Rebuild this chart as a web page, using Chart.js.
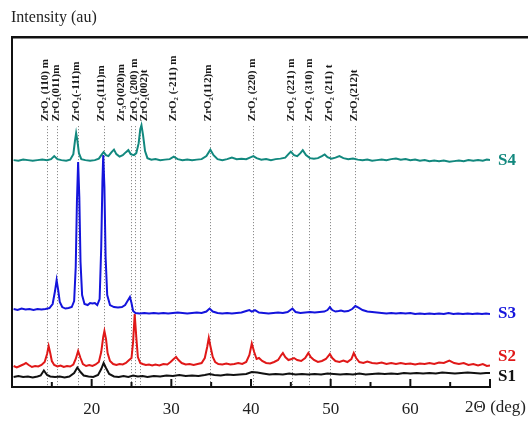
<!DOCTYPE html>
<html>
<head>
<meta charset="utf-8">
<script src="https://cdn.jsdelivr.net/npm/chart.js@4"></script>
<style>
  html, body { margin: 0; padding: 0; background: #fff; }
  #wrap { width: 528px; height: 423px; }
</style>
</head>
<body>
<div id="wrap"><canvas id="xrd" width="528" height="423"></canvas></div>
<script>
// 2-theta / intensity pairs (curves already offset)
const s4 = [[10.2,227],[10.8,226.5],[11.4,227.5],[12,227],[12.6,226.5],[13.2,227],[13.8,227.5],[14.4,227],[14.9,228],[15.3,231],[15.7,228],[16.2,227],[16.8,226.5],[17.3,227.5],[17.7,233],[17.9,246],[18.05,254],[18.2,247],[18.4,234],[18.7,228],[19.2,227],[19.8,226.5],[20.4,227],[20.9,228.5],[21.3,233],[21.5,235],[21.8,232],[22.1,231],[22.5,235],[22.8,237.5],[23.1,233],[23.5,230.5],[23.9,232],[24.3,235],[24.6,237],[24.9,233],[25.3,232],[25.6,234],[25.9,244],[26.1,258],[26.25,262],[26.45,252],[26.7,236],[27,229],[27.5,227.5],[28,228],[28.6,227],[29.2,227.5],[29.8,228],[30.3,230.5],[30.8,228],[31.4,227],[32,227.5],[32.6,227],[33.2,227.5],[33.8,228],[34.4,231],[34.9,237.5],[35.3,232],[35.8,228],[36.4,227],[37,228],[37.6,229.5],[38.2,228],[38.8,228.5],[39.4,228],[40,230],[40.3,231],[40.7,229],[41.3,227.5],[41.9,228],[42.5,227],[43.1,228],[43.7,228.5],[44.3,229.5],[44.7,233],[45,235.5],[45.4,232],[45.8,231],[46.2,234],[46.5,237],[46.9,232],[47.4,229],[47.9,228.5],[48.4,229],[48.9,231],[49.25,232.7],[49.6,230],[50.1,228.5],[50.6,229.5],[51.1,231],[51.6,229],[52.2,228],[52.8,228.7],[53.4,227.5],[54,227],[54.6,227.5],[55.2,226.5],[55.8,227],[56.4,227.5],[57,227],[57.6,228],[58.2,228.7],[58.8,227.5],[59.4,228],[60,227],[60.6,227.5],[61.2,226.5],[61.8,227],[62.4,226],[63,226.5],[63.6,226],[64.2,226.5],[64.9,225.5],[65.5,226],[66.1,226.5],[66.7,226],[67.3,227],[67.9,226.5],[68.5,227],[69.1,226.5],[69.6,227.5],[70,227]];

const s3 = [[10.2,78],[10.7,77],[11.2,78.5],[11.7,77.5],[12.2,78],[12.7,77],[13.2,78],[13.7,77.5],[14.2,78],[14.7,79],[15.1,83],[15.4,96],[15.6,107],[15.8,97],[16,85],[16.3,80],[16.7,78.5],[17.1,79],[17.5,80],[17.8,86],[18,120],[18.15,185],[18.3,225],[18.45,190],[18.6,125],[18.8,92],[19.1,83],[19.5,82],[19.8,84],[20.1,83.5],[20.4,84],[20.7,82],[21,88],[21.2,140],[21.35,205],[21.45,232],[21.6,200],[21.75,130],[21.95,92],[22.3,82],[22.8,80],[23.3,79.5],[23.8,80],[24.2,82],[24.5,86],[24.8,90],[25,84],[25.2,76],[25.5,74],[26,73.5],[26.6,74],[27.2,73.5],[27.8,74],[28.4,73.5],[29,74],[29.6,73.5],[30.2,74],[30.8,74.5],[31.4,74],[32,73.5],[32.6,74],[33.2,74.5],[33.8,74],[34.4,75.5],[34.8,78.5],[35.2,75.5],[35.8,74],[36.4,73.5],[37,74],[37.6,73.5],[38.2,74],[38.8,74.5],[39.4,76],[39.8,77],[40.1,75.5],[40.5,77],[41,74.5],[41.6,74],[42.2,73.5],[42.8,74],[43.4,74.5],[44,74],[44.6,75],[45.2,78.5],[45.6,75],[46.2,74],[46.8,74.5],[47.4,75],[48,74.5],[48.6,75],[49.2,75.5],[49.6,77],[49.9,80],[50.2,77],[50.6,75.5],[51,76],[51.3,76.5],[51.7,75.5],[52.2,76],[52.7,78],[53.1,81],[53.5,79.5],[54,77],[54.6,75.5],[55.2,75],[55.8,74.5],[56.4,74],[57,73.5],[57.6,74],[58.2,73.5],[58.8,74],[59.4,73.5],[60,74],[60.6,73],[61.2,73.5],[61.8,73],[62.4,73.5],[63,73],[63.6,73.5],[64.2,73],[64.8,74],[65.4,73],[66,73.5],[66.6,73],[67.2,73.5],[67.8,73],[68.4,73.5],[69,73],[69.5,73.5],[70,73]];

const s2 = [[10.2,21],[10.6,19.5],[11,21],[11.4,22.5],[11.75,24],[12.1,22],[12.5,20],[12.9,21],[13.3,20.5],[13.7,22],[14.1,25],[14.4,33],[14.6,41],[14.8,34],[15,26],[15.3,22],[15.7,20.5],[16.1,21.5],[16.5,20],[16.9,21],[17.3,20.5],[17.7,22.5],[18,28],[18.3,36],[18.6,29],[18.9,23],[19.3,21],[19.7,22],[20.1,21],[20.5,22.5],[20.9,25],[21.2,35],[21.45,50],[21.6,56],[21.8,48],[22,34],[22.3,26],[22.7,23],[23.1,22],[23.5,23],[23.9,22.5],[24.3,24],[24.7,27],[25,29],[25.2,45],[25.4,73],[25.6,50],[25.8,30],[26.1,24],[26.4,23],[26.8,22],[27.2,22.5],[27.6,21.5],[28,22.5],[28.5,21.5],[29,23],[29.5,22.5],[29.9,25],[30.3,28],[30.6,30],[30.9,27],[31.3,24],[31.8,22.5],[32.3,23],[32.8,22],[33.3,23],[33.8,24],[34.2,29],[34.5,40],[34.7,49],[34.9,41],[35.2,30],[35.5,25],[35.9,23],[36.4,22.5],[36.9,23.5],[37.4,22.5],[37.9,23],[38.4,24],[38.9,23],[39.4,25],[39.8,32],[40.1,43.5],[40.4,35],[40.7,28],[41,29],[41.4,26],[41.9,24],[42.4,23.5],[42.9,25],[43.4,27],[43.8,32],[44,34],[44.3,30],[44.7,27],[45.1,28],[45.4,29],[45.8,27],[46.3,26],[46.8,29],[47.2,34],[47.5,30],[47.9,27],[48.4,25],[48.9,26],[49.4,28],[49.9,33],[50.2,29],[50.6,26],[51.1,25],[51.6,26.5],[52.1,25],[52.6,28],[52.9,34],[53.2,29],[53.6,25],[54.1,24],[54.6,25.5],[55.2,24],[55.8,23.5],[56.4,24.5],[57,23],[57.6,24],[58.2,23],[58.8,24],[59.4,23],[60,23.5],[60.6,22.5],[61.2,23.5],[61.8,23],[62.4,24],[63,23],[63.6,24.5],[64.2,24],[64.9,26.5],[65.5,24],[66.1,23],[66.7,24],[67.3,22],[67.9,23],[68.5,21.5],[69.1,23],[69.6,21],[70,21.5]];

const s1 = [[10.2,10],[10.8,11],[11.4,10],[12,10.5],[12.6,9.5],[13.2,10.5],[13.6,11.5],[14,16.5],[14.4,12],[14.8,10.5],[15.4,10],[16,10.5],[16.6,9.5],[17.2,10.5],[17.8,14],[18.2,19.5],[18.6,15],[19,11.5],[19.6,10.5],[20.2,10],[20.8,12],[21.2,18],[21.5,24],[21.8,19],[22.2,13],[22.8,10.5],[23.4,10],[24,11],[24.6,10],[25.2,11.5],[25.8,10.5],[26.4,11],[27,10],[27.8,11],[28.6,10.5],[29.4,11.5],[30.2,11],[31,12],[31.8,11],[32.6,11.5],[33.4,11],[34.2,12],[34.8,13],[35.4,12],[36.2,11.5],[37,12.5],[37.8,12],[38.6,12.5],[39.4,13],[40.1,15],[40.8,14.5],[41.5,13.5],[42.3,12.5],[43.1,13],[44,12.5],[44.8,13.5],[45.6,12.5],[46.4,13],[47.2,12.5],[48,13],[48.8,12.5],[49.6,13.5],[50.4,13],[51.2,12.5],[52,13],[52.8,12.5],[53.6,13.5],[54.4,12.5],[55.2,13],[56,13.5],[56.8,13],[57.6,13.5],[58.4,13],[59.2,14],[60,13.5],[60.8,14],[61.6,13.5],[62.4,14],[63.2,13.5],[64,14.5],[64.8,14],[65.6,13.5],[66.4,14],[67.2,14.5],[68,14],[68.8,13.5],[69.5,14],[70,14]];

const seriesNames = ['S4', 'S3', 'S2', 'S1'];

// reflection markers
const peakLines = [14.4, 15.6, 18.3, 21.5, 24.9, 25.4, 26.1, 30.4, 34.8, 40.3, 45.2, 47.3, 49.9, 53.0];
const peakLabelPos = [14.2, 15.5, 18.0, 21.2, 23.7, 25.3, 26.6, 30.2, 34.6, 40.2, 45.1, 47.3, 49.8, 52.9];
const peakLabels = ['ZrO₂ (110) m', 'ZrO₂(011)m', 'ZrO₂(-111)m', 'ZrO₂(111)m', 'Zr₃O(020)m', 'ZrO₂ (200) m', 'ZrO₂(002)t',
  'ZrO₂ (-211) m', 'ZrO₂(112)m', 'ZrO₂ (220) m', 'ZrO₂ (221) m', 'ZrO₂ (310) m', 'ZrO₂ (211) t', 'ZrO₂(212)t'];

const xTickLabels = [20, 30, 40, 50, 60];

const SERIF = '"Liberation Serif", "Times New Roman", serif';
const colors = ['#12887e', '#1414dc', '#e01818', '#111111'];
const labelOffsets = [0, 0, -9, 4];

const toXY = arr => arr.map(p => ({ x: p[0], y: p[1] }));

const xrdDecor = {
  id: 'xrdDecor',
  beforeDatasetsDraw(chart) {
    const { ctx, scales: { x, y } } = chart;
    ctx.save();
    ctx.strokeStyle = '#7a7a7a';
    ctx.lineWidth = 1;
    ctx.setLineDash([1, 2]);
    const yTop = y.getPixelForValue(261);
    peakLines.forEach(p => {
      const px = Math.round(x.getPixelForValue(p)) + 0.5;
      ctx.beginPath();
      ctx.moveTo(px, yTop);
      ctx.lineTo(px, y.bottom);
      ctx.stroke();
    });
    ctx.restore();

    // rotated peak labels
    ctx.save();
    ctx.fillStyle = '#1a1a1a';
    ctx.font = 'bold 11px ' + SERIF;
    ctx.textAlign = 'left';
    ctx.textBaseline = 'middle';
    const yBase = y.getPixelForValue(266);
    peakLabels.forEach((t, i) => {
      ctx.save();
      ctx.translate(x.getPixelForValue(peakLabelPos[i]), yBase);
      ctx.rotate(-Math.PI / 2);
      ctx.fillText(t, 0, 0);
      ctx.restore();
    });
    ctx.restore();
  },
  afterDraw(chart) {
    const { ctx, chartArea: a, scales: { x, y } } = chart;
    ctx.save();
    // frame: left axis + top rule
    ctx.strokeStyle = '#111';
    ctx.lineWidth = 2;
    ctx.beginPath();
    ctx.moveTo(a.left, a.bottom);
    ctx.lineTo(a.left, a.top);
    ctx.stroke();
    ctx.lineWidth = 2.5;
    ctx.beginPath();
    ctx.moveTo(a.left - 1, a.top);
    ctx.lineTo(chart.width, a.top);
    ctx.stroke();

    // inward tick marks
    ctx.lineWidth = 2;
    x.ticks.forEach(tk => {
      if (tk.value <= x.min) return;
      const px = x.getPixelForValue(tk.value);
      const len = tk.value % 10 === 0 ? 8 : 5;
      ctx.beginPath();
      ctx.moveTo(px, a.bottom);
      ctx.lineTo(px, a.bottom - len);
      ctx.stroke();
    });

    // axis name
    ctx.fillStyle = '#222';
    ctx.font = '17px ' + SERIF;
    ctx.textAlign = 'right';
    ctx.textBaseline = 'middle';
    ctx.fillText('2Θ (deg)', chart.width - 2, a.bottom + 21);

    // series names
    ctx.font = 'bold 17px ' + SERIF;
    ctx.textAlign = 'left';
    chart.data.datasets.forEach((ds, i) => {
      const last = ds.data[ds.data.length - 1];
      ctx.fillStyle = colors[i];
      ctx.fillText(seriesNames[i], a.right + 8, y.getPixelForValue(last.y) + labelOffsets[i]);
    });
    ctx.restore();
  }
};

new Chart(document.getElementById('xrd'), {
  type: 'line',
  data: {
    datasets: [s4, s3, s2, s1].map((s, i) => ({
      label: seriesNames[i],
      data: toXY(s),
      borderColor: colors[i],
      borderWidth: 2,
      pointRadius: 0,
      tension: 0,
      fill: false
    }))
  },
  options: {
    responsive: false,
    animation: false,
    events: [],
    layout: { padding: { left: 11, right: 38, top: 0, bottom: 0 } },
    plugins: {
      legend: { display: false },
      tooltip: { enabled: false },
      title: {
        display: true,
        text: 'Intensity (au)',
        align: 'start',
        color: '#222',
        font: { family: SERIF, size: 16, weight: 'normal' },
        padding: { top: 8, bottom: 10 }
      }
    },
    scales: {
      x: {
        type: 'linear',
        min: 10,
        max: 70,
        afterFit: s => { s.height = 36; },
        grid: { display: false, drawTicks: false },
        border: { display: true, color: '#111', width: 2 },
        ticks: {
          stepSize: 5,
          autoSkip: false,
          maxRotation: 0,
          padding: 12,
          color: '#222',
          font: { family: SERIF, size: 17 },
          callback: v => xTickLabels.includes(v) ? String(v) : ''
        }
      },
      y: {
        display: false,
        min: 0,
        max: 350
      }
    }
  },
  plugins: [xrdDecor]
});
</script>
</body>
</html>
